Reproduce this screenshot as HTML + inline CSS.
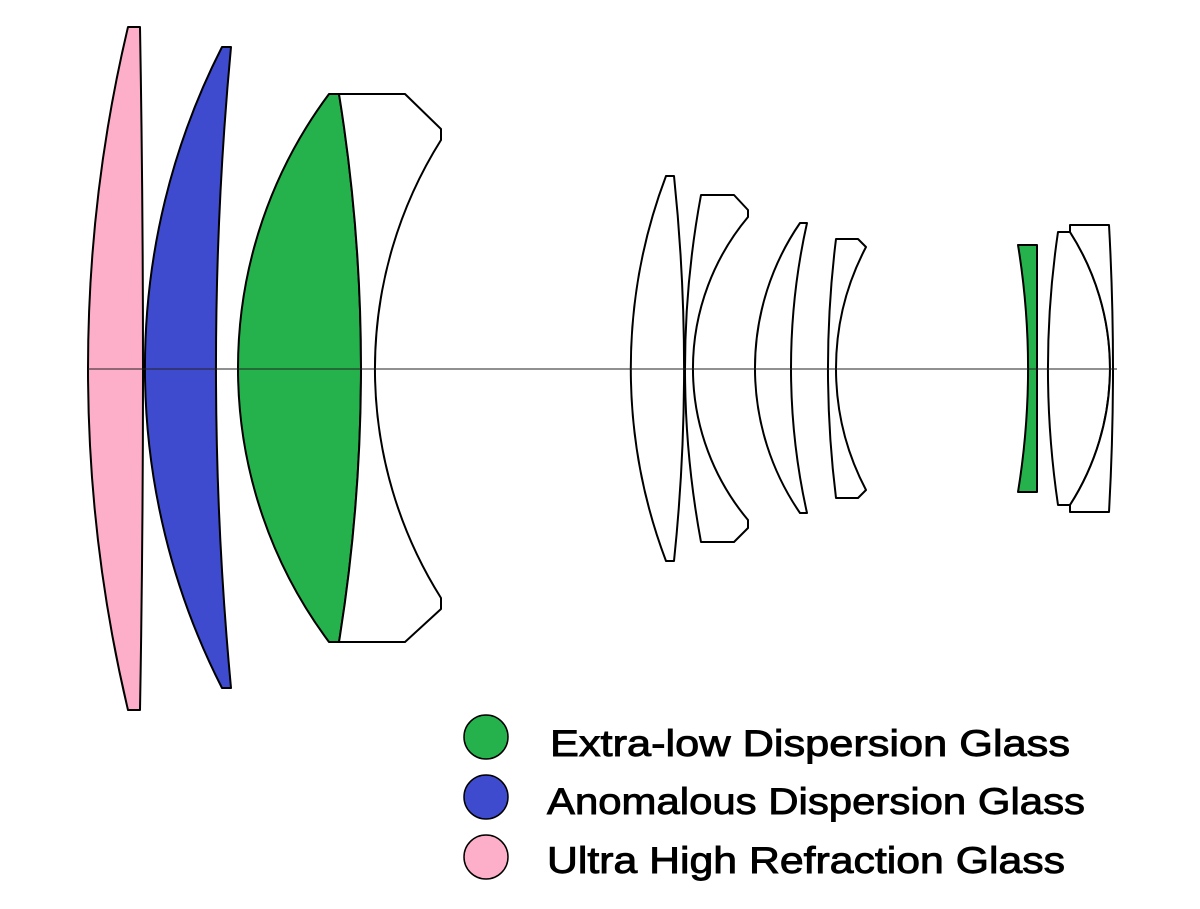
<!DOCTYPE html>
<html><head><meta charset="utf-8"><style>html,body{margin:0;padding:0;background:#fff;}svg{display:block}</style></head>
<body>
<svg width="1200" height="909" viewBox="0 0 1200 909" xmlns="http://www.w3.org/2000/svg">
<g stroke="#000" stroke-width="2" stroke-linejoin="round">
<path fill="#fdaec8" d="M128,27 L140,27 Q146,369 140,710 L128,710 A1478 1478 0 0 1 128,27 Z"/>
<path fill="#3f4bce" d="M222,47 L231,47 A3431 3431 0 0 0 231,688 L222,688 A705 705 0 0 1 222,47 Z"/>
<path fill="#25b14c" d="M329,94 L339,94 A1717 1717 0 0 1 339,642 L329,642 A458 458 0 0 1 329,94 Z"/>
<path fill="#fff" d="M339,94 L405,94 L441,129 L441,140 A430 430 0 0 0 441,598 L441,609 L405,642 L339,642 A1717 1717 0 0 0 339,94 Z"/>
<path fill="#fff" d="M666,176 L674,176 A1848 1848 0 0 1 674,561 L666,561 A544 544 0 0 1 666,176 Z"/>
<path fill="#fff" d="M701,195 L734,195 L748,210 L748,217 A236 236 0 0 0 748,520 L748,528 L734,542 L701,542 A949 949 0 0 1 701,195 Z"/>
<path fill="#fff" d="M800,223 L807,223 A665 665 0 0 0 807,513 L800,513 A256 256 0 0 1 800,223 Z"/>
<path fill="#fff" d="M836,239 L858,239 L866,247 A261 261 0 0 0 866,490 L858,498 L836,498 A1052 1052 0 0 1 836,239 Z"/>
<path fill="#25b14c" d="M1018,245 L1037,245 L1037,492 L1018,492 A768 768 0 0 0 1018,245 Z"/>
<path fill="#fff" d="M1058,232 L1070,232 A253 253 0 0 1 1070,505 L1058,505 A937 937 0 0 1 1058,232 Z"/>
<path fill="#fff" d="M1070,225 L1109,225 A2575 2575 0 0 1 1109,512 L1070,512 L1070,505 A253 253 0 0 0 1070,232 Z"/>
</g>
<line x1="88" y1="369" x2="1117" y2="369" stroke="#222" stroke-width="1"/>
<g stroke="#000" stroke-width="1.5">
<circle cx="486" cy="737" r="22" fill="#25b14c"/>
<circle cx="486" cy="797" r="22" fill="#3f4bce"/>
<circle cx="486" cy="857" r="22" fill="#fdaec8"/>
</g>
<g font-family="'Liberation Sans', sans-serif" font-size="37" fill="#000" stroke="#000" stroke-width="0.9">
<text x="550" y="756" textLength="520" lengthAdjust="spacingAndGlyphs">Extra-low Dispersion Glass</text>
<text x="547" y="814" textLength="538" lengthAdjust="spacingAndGlyphs">Anomalous Dispersion Glass</text>
<text x="547" y="873" textLength="518" lengthAdjust="spacingAndGlyphs">Ultra High Refraction Glass</text>
</g>
</svg>
</body></html>
